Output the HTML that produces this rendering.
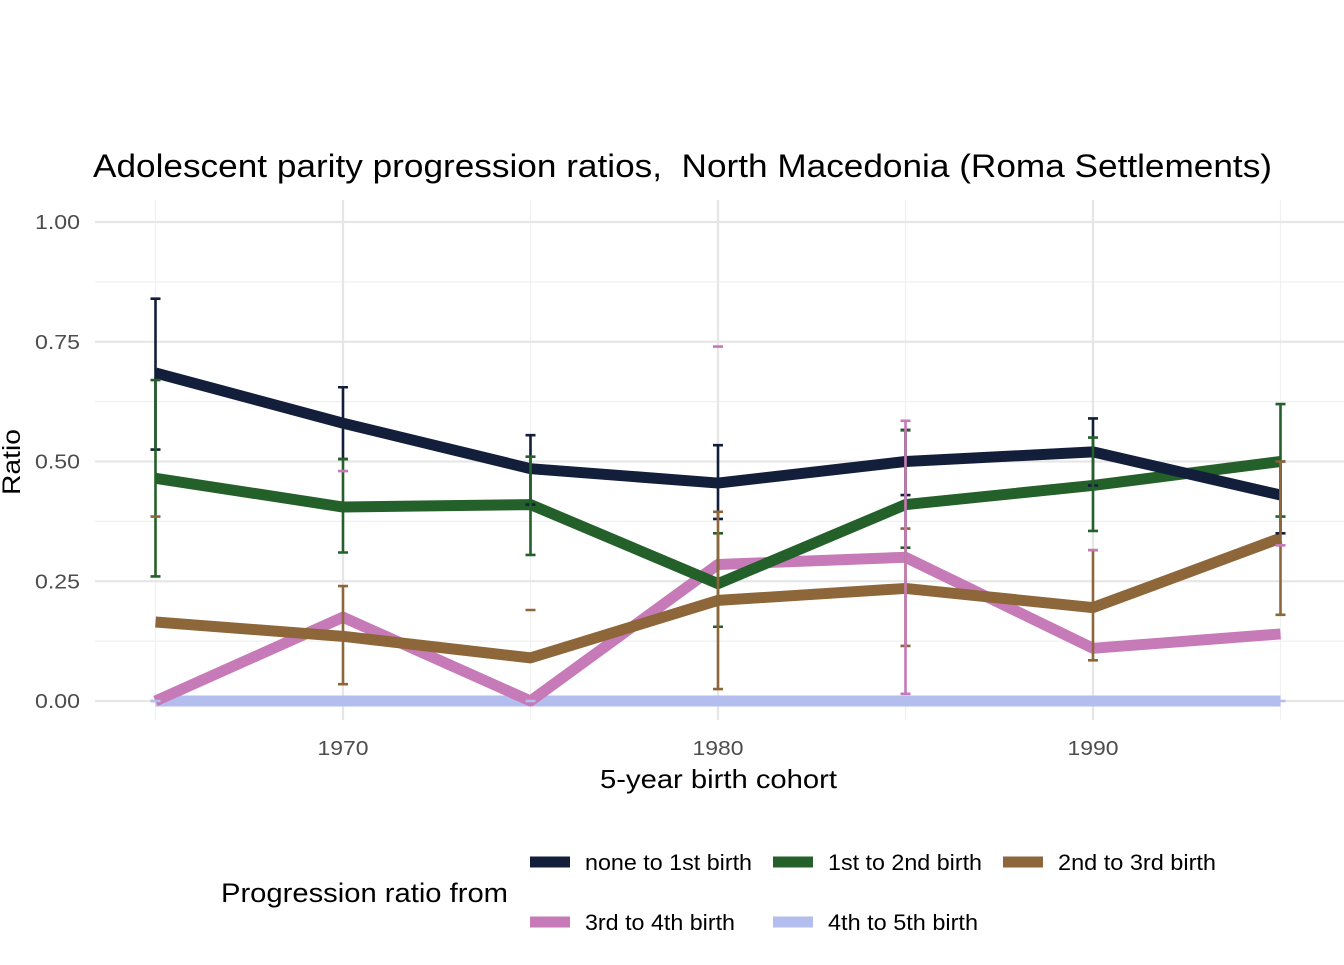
<!DOCTYPE html>
<html><head><meta charset="utf-8"><style>
body{margin:0;background:#fff;font-family:"Liberation Sans",sans-serif}
svg text{font-family:"Liberation Sans",sans-serif}
</style></head><body>
<svg id="c" width="1344" height="960" xmlns="http://www.w3.org/2000/svg">
<text x="93" y="177" font-size="32" fill="#000" textLength="1179" lengthAdjust="spacingAndGlyphs" style="white-space:pre">Adolescent parity progression ratios,  North Macedonia (Roma Settlements)</text>
<g id="grid"></g><g id="lines"></g><g id="bars"></g><g id="axes"></g>
<text transform="translate(20,462) rotate(-90)" text-anchor="middle" font-size="25" textLength="66" lengthAdjust="spacingAndGlyphs">Ratio</text>
<text x="600" y="788" font-size="26" textLength="237" lengthAdjust="spacingAndGlyphs">5-year birth cohort</text>
<g id="legend"></g>
</svg>
<script>
const years=[1965,1970,1975,1980,1985,1990,1995];
const seriesNames=["none to 1st birth","1st to 2nd birth","2nd to 3rd birth","3rd to 4th birth","4th to 5th birth"];
const colors=["#131f3a","#246029","#8d6639","#c77ab8","#b3bdee"];
const s1=[0.685,0.58,0.485,0.455,0.50,0.52,0.43];
const s1lo=[0.525,0.505,0.41,0.38,0.43,0.45,0.35];
const s1hi=[0.84,0.655,0.555,0.534,0.566,0.59,0.50];
const s2=[0.465,0.405,0.41,0.245,0.41,0.45,0.50];
const s2lo=[0.26,0.31,0.305,0.155,0.32,0.355,0.385];
const s2hi=[0.67,0.505,0.51,0.35,0.565,0.55,0.62];
const s3=[0.165,0.135,0.09,0.21,0.235,0.195,0.34];
const s3lo=[0.385,0.035,0.19,0.025,0.115,0.085,0.18];
const s3hi=[0.385,0.24,0.19,0.395,0.36,0.315,0.50];
const s4=[0.0,0.175,0.0,0.285,0.30,0.11,0.14];
const s4lo=[0.0,0.48,0.0,0.74,0.015,0.315,0.325];
const s4hi=[0.0,0.48,0.0,0.74,0.585,0.315,0.325];
const s5=[0,0,0,0,0,0,0];
const s5lo=[0,0,0,0,0,0,0];
const s5hi=[0,0,0,0,0,0,0];
const yTicks=[0,0.25,0.5,0.75,1.0];
const yTickLabels=["0.00","0.25","0.50","0.75","1.00"];
const xTicks=[1970,1980,1990];
const xTickLabels=["1970","1980","1990"];
const X=v=>343+(v-1970)*37.5;
const Y=v=>701-v*479;
const NS="http://www.w3.org/2000/svg";
function mk(p,t,a){const e=document.createElementNS(NS,t);for(const k in a)e.setAttribute(k,a[k]);document.getElementById(p).appendChild(e);return e;}
const L=95,R=1344,T=200,B=720;
for(let i=0;i<yTicks.length-1;i++){const v=(yTicks[i]+yTicks[i+1])/2;const e=mk("grid","line",{x1:L,x2:R,y1:Y(v),y2:Y(v),stroke:"#f0f0f0","stroke-width":1.2});
}
for(const v of [1965,1975,1985,1995]){const e=mk("grid","line",{x1:X(v),x2:X(v),y1:T,y2:B,stroke:"#f0f0f0","stroke-width":1.2});
}
yTicks.forEach((v,i)=>{const e=mk("grid","line",{x1:L,x2:R,y1:Y(v),y2:Y(v),stroke:"#e6e6e6","stroke-width":2.2});

const t=mk("axes","text",{x:80,y:Y(v)+7,"text-anchor":"end","font-size":20,fill:"#4d4d4d",textLength:45,lengthAdjust:"spacingAndGlyphs"});t.textContent=yTickLabels[i];
});
xTicks.forEach((v,i)=>{const e=mk("grid","line",{x1:X(v),x2:X(v),y1:T,y2:B,stroke:"#e6e6e6","stroke-width":2.2});

const t=mk("axes","text",{x:X(v),y:755,"text-anchor":"middle","font-size":20,fill:"#4d4d4d",textLength:51,lengthAdjust:"spacingAndGlyphs"});t.textContent=xTickLabels[i];
});
const S=[s1,s2,s3,s4,s5],LO=[s1lo,s2lo,s3lo,s4lo,s5lo],HI=[s1hi,s2hi,s3hi,s4hi,s5hi];
for(let k=4;k>=0;k--){const pts=years.map((y,i)=>X(y)+","+Y(S[k][i])).join(" ");
const e=mk("lines","polyline",{points:pts,fill:"none",stroke:colors[k],"stroke-width":11,"stroke-linejoin":"round"});
}
for(let k=0;k<5;k++){years.forEach((y,i)=>{const x=X(y),a=Y(LO[k][i]),b=Y(HI[k][i]);
const e=mk("bars","path",{d:`M${x-5},${a}H${x+5}M${x},${a}V${b}M${x-5},${b}H${x+5}`,stroke:colors[k],"stroke-width":2.6,fill:"none"});
});}
const lt=mk("legend","text",{x:221,y:902,"font-size":27,textLength:287,lengthAdjust:"spacingAndGlyphs"});lt.textContent="Progression ratio from";

const pos=[[530,862],[773,862],[1003,862],[530,922],[773,922]];
const widths=[167,154,158,150,150];
seriesNames.forEach((n,k)=>{const [x,y]=pos[k];
const l=mk("legend","line",{x1:x,x2:x+40,y1:y,y2:y,stroke:colors[k],"stroke-width":11});

const t=mk("legend","text",{x:x+55,y:y+8,"font-size":22,textLength:widths[k],lengthAdjust:"spacingAndGlyphs"});t.textContent=n;
});
</script>
</body></html>
